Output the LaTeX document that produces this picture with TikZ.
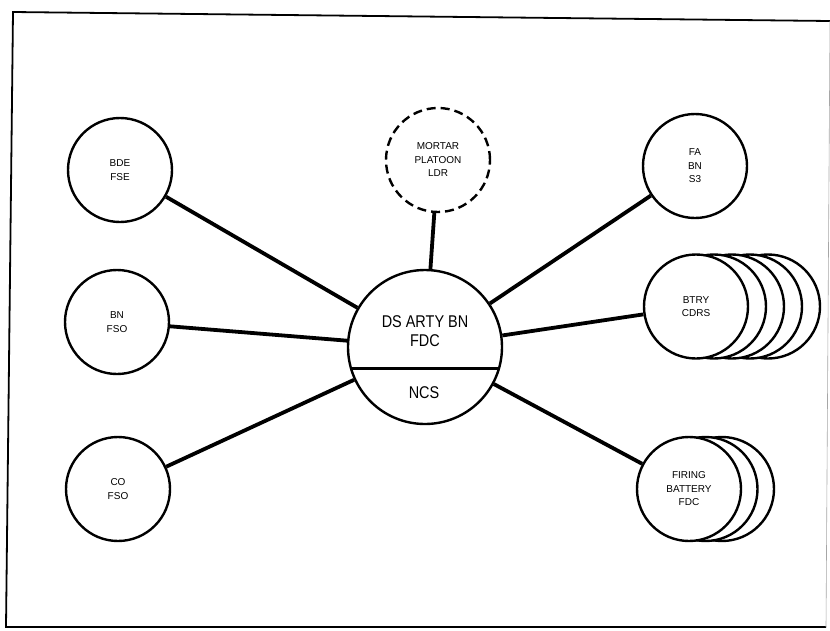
\documentclass[tikz,border=0pt]{standalone}
\usepackage{fontspec}
\usepackage{graphicx}
\setmainfont{Liberation Sans}
\begin{document}
\begin{tikzpicture}[x=1pt,y=-1pt,
  sat/.style={circle,draw,line width=2.4pt,fill=white,minimum size=104pt,inner sep=0pt,align=center,font=\fontsize{10}{13.5}\selectfont},
  ghost/.style={circle,draw,line width=2.4pt,fill=white,minimum size=104pt,inner sep=0pt},
  link/.style={line width=3.8pt},
  bigtext/.style={align=center,font=\fontsize{17}{19}\selectfont,inner sep=0pt},
]
\useasboundingbox (0,0) rectangle (830,630);
% frame
\coordinate (ftr) at (830,21);
\coordinate (ftl) at (13,12);
\coordinate (fbl) at (6,627);
\coordinate (fbr) at (826,627);
\draw[line width=1.8pt] (ftr) -- (ftl) -- (fbl) -- (fbr);
\draw[line width=0.6pt,black!35] (fbr) -- (ftr);
% left column
\node[sat] (bde) at (120,170) {BDE\\FSE};
\node[sat] (bn) at (117,322) {BN\\FSO};
\node[sat] (co) at (118,489) {CO\\FSO};
% top
\node[sat,dash pattern=on 9pt off 5pt] (mortar) at (438,160) {MORTAR\\PLATOON\\LDR};
% right column
\node[sat] (fa) at (695,166) {FA\\BN\\S3};
\node[ghost] (btry4) at (768,306.5) {};
\node[ghost] (btry3) at (750,306.5) {};
\node[ghost] (btry2) at (732,306.5) {};
\node[ghost] (btry1) at (714,306.5) {};
\node[sat] (btry) at (696,306.5) {BTRY\\CDRS};
\node[ghost] (fire2) at (722,489) {};
\node[ghost] (fire1) at (705.5,489) {};
\node[sat] (fire) at (689,489) {FIRING\\BATTERY\\FDC};
% centre
\node[circle,draw,line width=2.4pt,fill=white,minimum size=154pt,inner sep=0pt] (fdc) at (425,347) {};
\draw[line width=2.6pt] (fdc.196.4) -- (fdc.-16.4);
\node[bigtext] (fdctext) at (425,331) {\scalebox{0.85}[1]{DS ARTY BN}\\\scalebox{0.85}[1]{FDC}};
\node[bigtext] (ncs) at (424,393) {\scalebox{0.85}[1]{NCS}};
% connectors
\draw[link] (bde) -- (fdc);
\draw[link] (bn) -- (fdc);
\draw[link] (co) -- (fdc);
\draw[link] (mortar) -- (fdc);
\draw[link] (fa) -- (fdc);
\draw[link] (btry) -- (fdc);
\draw[link] (fire) -- (fdc);
\end{tikzpicture}
\end{document}
